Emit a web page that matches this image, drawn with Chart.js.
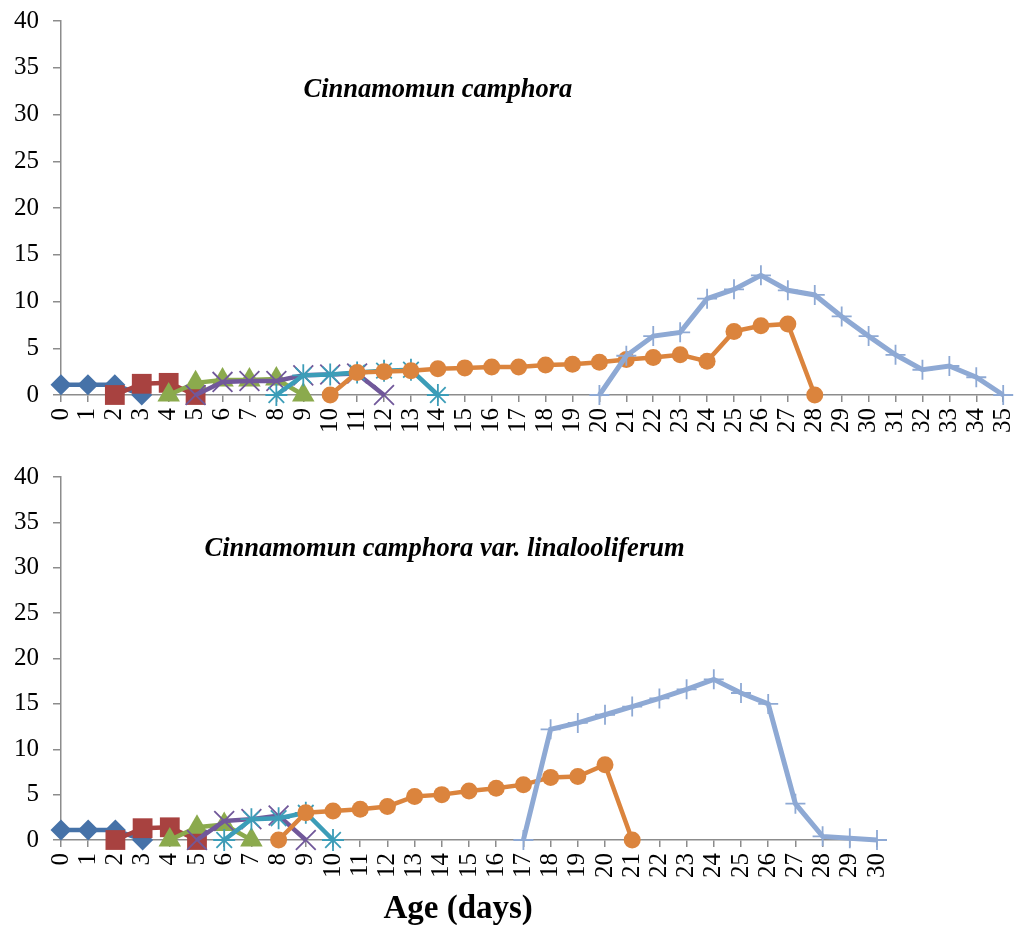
<!DOCTYPE html>
<html>
<head>
<meta charset="utf-8">
<script src="https://cdn.jsdelivr.net/npm/chart.js@4/dist/chart.umd.min.js"></script>
<style>
  body { margin: 0; background: #fff; }
  #wrap { position: relative; width: 1019px; height: 925px; }
  #top { position: absolute; left: 0; top: 0; width: 1019px; height: 460px; }
  #bottom { position: absolute; left: 0; top: 460px; width: 1019px; height: 465px; }
</style>
</head>
<body>
<div id="wrap">
  <div id="top"><canvas id="chartTop"></canvas></div>
  <div id="bottom"><canvas id="chartBottom"></canvas></div>
</div>
<script>
// ages (x categories)
var daysTop = [];
for (var d = 0; d <= 35; d++) daysTop.push(String(d));
var daysBottom = daysTop.slice(0, 31);
var yTicks = [0, 5, 10, 15, 20, 25, 30, 35, 40];

// Cinnamomun camphora - each series: first age + values
var c1BlueStart = 0,   c1Blue = [1.1, 1.1, 1.1, 0];
var c1RedStart = 2,    c1Red = [0, 1.2, 1.3, 0];
var c1GreenStart = 4,  c1Green = [0, 1.3, 1.6, 1.6, 1.7, 0];
var c1PurpleStart = 5, c1Purple = [0, 1.4, 1.5, 1.5, 2.1, 2.2, 2.3, 0];
var c1TealStart = 8,   c1Teal = [0, 2.1, 2.2, 2.4, 2.6, 2.7, 0];
var c1OrangeStart = 10, c1Orange = [0, 2.4, 2.5, 2.6, 2.8, 2.9, 3.0, 3.0, 3.2, 3.3, 3.5, 3.8, 4.0, 4.3, 3.6, 6.8, 7.4, 7.6, 0];
var c1LightStart = 20, c1Light = [0, 4.2, 6.3, 6.7, 10.3, 11.3, 12.8, 11.2, 10.7, 8.4, 6.3, 4.3, 2.7, 3.1, 1.9, 0];

// Cinnamomun camphora var. linalooliferum
var c2BlueStart = 0,   c2Blue = [1.1, 1.1, 1.1, 0];
var c2RedStart = 2,    c2Red = [0, 1.3, 1.4, 0];
var c2GreenStart = 4,  c2Green = [0, 1.4, 1.7, 0];
var c2PurpleStart = 5, c2Purple = [0, 2.1, 2.3, 2.7, 0];
var c2TealStart = 6,   c2Teal = [0, 2.3, 2.4, 3.0, 0];
var c2OrangeStart = 8, c2Orange = [0, 3.0, 3.2, 3.4, 3.7, 4.8, 5.0, 5.4, 5.7, 6.1, 6.9, 7.0, 8.3, 0];
var c2LightStart = 17, c2Light = [0, 12.2, 12.9, 13.8, 14.7, 15.6, 16.6, 17.7, 16.2, 15.0, 4.0, 0.4, 0.2, 0];

var colors = ['#4672A8', '#A84240', '#8BAA4D', '#71589A', '#3C9DB8', '#DB843D', '#8EA9D4'];
var styles = ['rectRot', 'rect', 'triangle', 'crossRot', 'star', 'circle', 'cross'];
var radii = [10.5, 14, 13, 14, 11, 8.5, 10];

function pad(start, values) {
    var out = [];
    for (var i = 0; i < start; i++) out.push(null);
    return out.concat(values);
}

function makeSets(list) {
    return list.map(function (s, i) {
        var filled = styles[i] !== 'crossRot' && styles[i] !== 'star' && styles[i] !== 'cross';
        return {
            data: pad(s[0], s[1]),
            borderColor: colors[i],
            backgroundColor: colors[i],
            borderWidth: i === 6 ? 5 : 4.5,
            tension: 0,
            clip: false,
            pointStyle: styles[i],
            pointRadius: radii[i],
            pointBorderWidth: filled ? 0 : 1.8,
            pointBackgroundColor: colors[i],
            pointBorderColor: colors[i],
            order: -i
        };
    });
}

// italic species name + x title, placed through the scales
var notes = {
    id: 'notes',
    afterDraw: function (chart, args, opts) {
        var ctx = chart.ctx;
        var x = chart.scales.x, y = chart.scales.y;
        ctx.save();
        ctx.fillStyle = '#000';
        ctx.textAlign = 'center';
        ctx.textBaseline = 'middle';
        ctx.font = 'italic bold 26.5px "Liberation Serif"';
        ctx.fillText(opts.text, x.getPixelForValue(opts.at), y.getPixelForValue(opts.level));
        if (opts.axisTitle) {
            ctx.font = 'bold 33px "Liberation Serif"';
            ctx.fillText(opts.axisTitle, x.getPixelForValue(opts.titleAt), chart.height - 16);
        }
        ctx.restore();
    }
};

function makeOptions(padding, xHeight, note) {
    return {
        responsive: true,
        maintainAspectRatio: false,
        animation: false,
        layout: { padding: padding },
        plugins: { legend: { display: false }, tooltip: { enabled: false }, notes: note },
        scales: {
            x: {
                offset: false,
                afterFit: function (s) { s.height = xHeight; s.paddingLeft = 0; s.paddingRight = 0; },
                grid: { drawOnChartArea: false, drawTicks: true, tickLength: 7, color: '#8c8c8c', lineWidth: 1.5 },
                border: { color: '#8c8c8c', width: 1.5 },
                ticks: { autoSkip: false, minRotation: 90, maxRotation: 90, padding: 6, color: '#000',
                         font: { family: 'Liberation Serif', size: 25 } }
            },
            y: {
                min: 0, max: 40,
                afterFit: function (s) { s.width = 61; s.paddingTop = 0; s.paddingBottom = 0; },
                afterBuildTicks: function (s) { s.ticks = yTicks.map(function (v) { return { value: v }; }); },
                grid: { drawOnChartArea: false, drawTicks: true, tickLength: 8, color: '#8c8c8c', lineWidth: 1.5 },
                border: { color: '#8c8c8c', width: 1.5 },
                ticks: { padding: 14, color: '#000', font: { family: 'Liberation Serif', size: 25 } }
            }
        }
    };
}

new Chart(document.getElementById('chartTop').getContext('2d'), {
    type: 'line',
    data: {
        labels: daysTop,
        datasets: makeSets([
            [c1BlueStart, c1Blue], [c1RedStart, c1Red], [c1GreenStart, c1Green], [c1PurpleStart, c1Purple],
            [c1TealStart, c1Teal], [c1OrangeStart, c1Orange], [c1LightStart, c1Light]
        ])
    },
    options: makeOptions({ left: 0, right: 12, top: 21, bottom: 5 }, 60,
        { text: 'Cinnamomun camphora', at: 14, level: 32.6 }),
    plugins: [notes]
});

new Chart(document.getElementById('chartBottom').getContext('2d'), {
    type: 'line',
    data: {
        labels: daysBottom,
        datasets: makeSets([
            [c2BlueStart, c2Blue], [c2RedStart, c2Red], [c2GreenStart, c2Green], [c2PurpleStart, c2Purple],
            [c2TealStart, c2Teal], [c2OrangeStart, c2Orange], [c2LightStart, c2Light]
        ])
    },
    options: makeOptions({ left: 0, right: 142, top: 17, bottom: 5 }, 80,
        { text: 'Cinnamomun camphora var. linalooliferum', at: 14.1, level: 32,
          axisTitle: 'Age (days)', titleAt: 14.6 }),
    plugins: [notes]
});
</script>
</body>
</html>
